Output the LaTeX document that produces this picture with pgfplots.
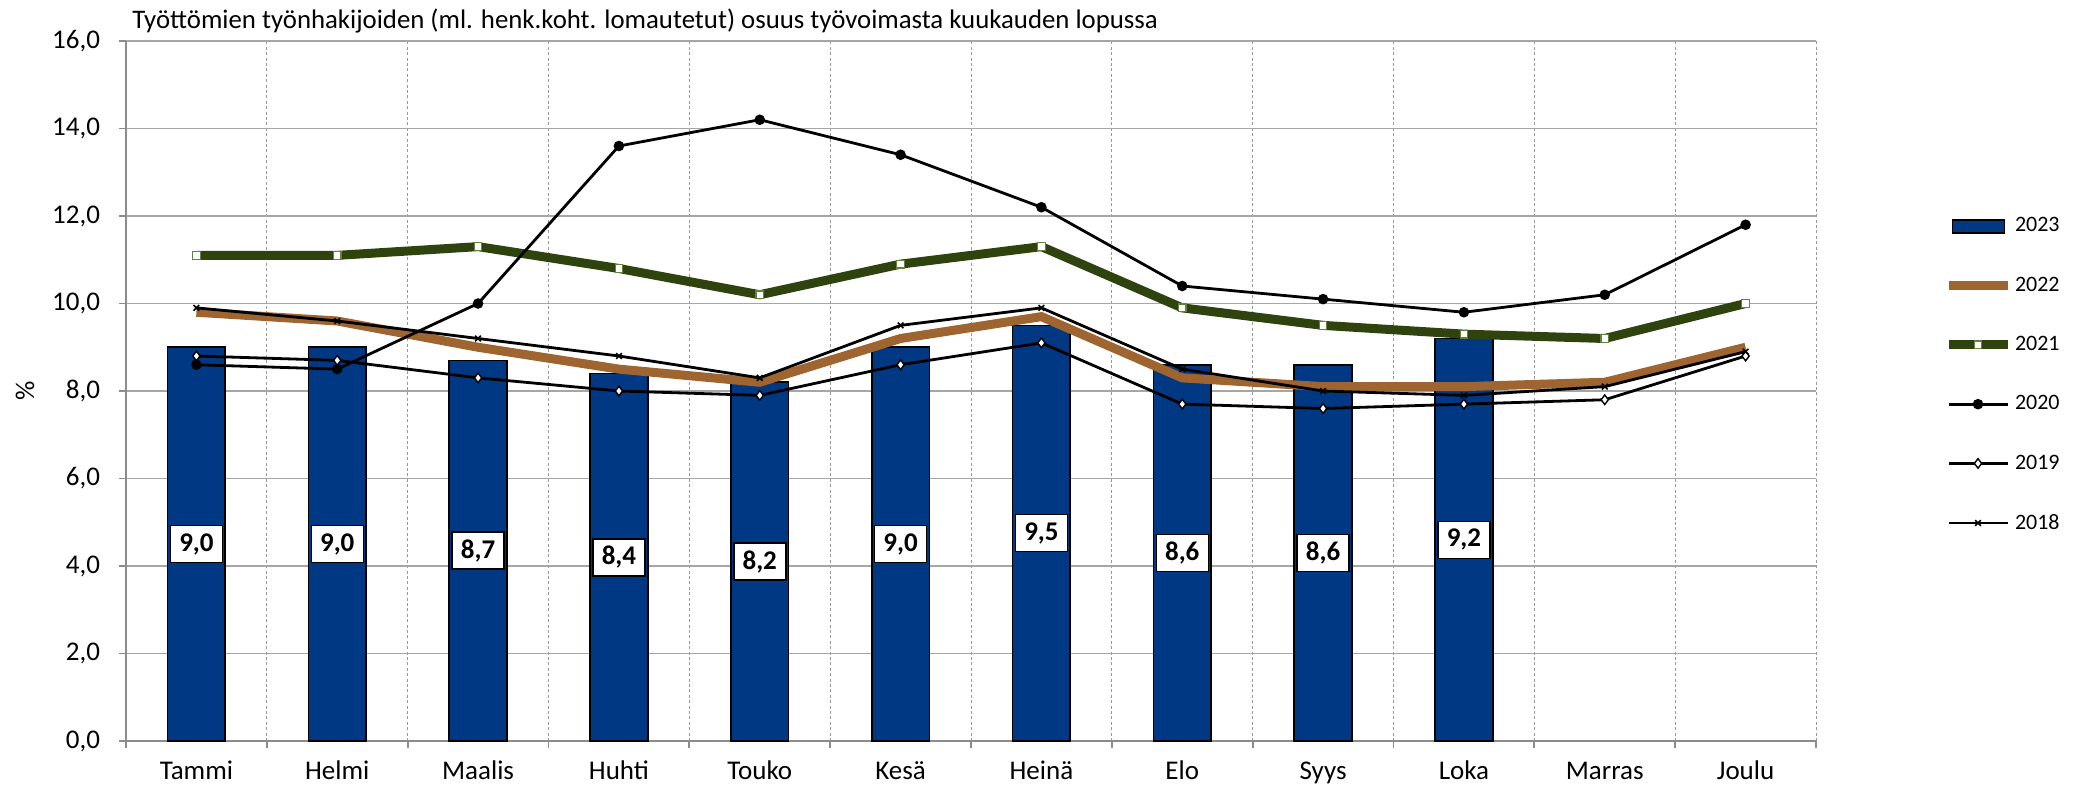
\documentclass[border=0pt]{standalone}
\usepackage{pgfplots}
\pgfplotsset{compat=1.18}
\usepackage{pgfplotstable}
\usepackage{fontspec}
\setmainfont{Carlito}
\definecolor{barblue}{RGB}{0,56,132}
\definecolor{brown22}{RGB}{158,101,48}
\definecolor{green21}{RGB}{47,67,15}
\definecolor{greenedge}{RGB}{100,130,60}

\pgfplotstableread{
x v
0 9.0
1 9.0
2 8.7
3 8.4
4 8.2
5 9.0
6 9.5
7 8.6
8 8.6
9 9.2
}\dataA

\pgfplotstableread{
x y22 y21 y20 y19 y18
0 9.8 11.1 8.6 8.8 9.9
1 9.6 11.1 8.5 8.7 9.6
2 9.0 11.3 10.0 8.3 9.2
3 8.5 10.8 13.6 8.0 8.8
4 8.2 10.2 14.2 7.9 8.3
5 9.2 10.9 13.4 8.6 9.5
6 9.7 11.3 12.2 9.1 9.9
7 8.3 9.9 10.4 7.7 8.5
8 8.1 9.5 10.1 7.6 8.0
9 8.1 9.3 9.8 7.7 7.9
10 8.2 9.2 10.2 7.8 8.1
11 9.0 10.0 11.8 8.8 8.9
}\dataL

\begin{document}
\begin{tikzpicture}
\useasboundingbox (0,0) rectangle (1039pt,394.5pt);
\begin{axis}[
  at={(63pt,24pt)}, anchor=south west,
  scale only axis, width=845pt, height=350pt,
  xmin=-0.5, xmax=11.5, ymin=0, ymax=16,
  axis x line*=bottom, axis y line*=left,
  axis line style={draw=black!45, line width=0.9pt, -},
  xtick={0,...,11},
  xticklabels={Tammi,Helmi,Maalis,Huhti,Touko,Kesä,Heinä,Elo,Syys,Loka,Marras,Joulu},
  minor xtick={-0.5,0.5,...,11.5},
  ytick={0,2,...,16},
  tick align=outside,
  major tick length=3.5pt, minor tick length=3.5pt,
  every major x tick/.append style={draw=none},
  every minor x tick/.append style={draw=black!45, line width=0.9pt},
  every major y tick/.append style={draw=black!45, line width=0.9pt},
  ymajorgrids, xminorgrids,
  major y grid style={draw=black!35, line width=0.9pt},
  minor x grid style={draw=black!40, line width=0.5pt, dash pattern=on 1.5pt off 1.2pt},
  tick label style={font=\fontsize{13.5}{15}\selectfont, text=black},
  yticklabel style={xshift=-6pt, /pgf/number format/.cd, fixed, fixed zerofill, precision=1, use comma, assume math mode=true},
  xticklabel style={anchor=base, yshift=-15.5pt},
  ylabel={\%},
  ylabel style={at={(axis description cs:-0.0598,0.5)}, anchor=center, font=\fontsize{13.5}{15}\selectfont},
  legend style={at={(1.0755,0.523)}, anchor=west, draw=none, fill=none,
    font=\fontsize{11}{13}\selectfont, row sep=21pt, inner sep=0pt,
    nodes={inner sep=0pt}, /tikz/every odd column/.append style={column sep=1.5pt}},
  legend cell align=left,
  legend image code/.code={\draw[mark repeat=2, mark phase=2, #1] plot coordinates {(0pt,0pt) (14.75pt,0pt) (29.5pt,0pt)};},
]
\addplot[ybar, bar width=0.41, fill=barblue, draw=black, line width=0.8pt,
  legend image code/.code={\draw[fill=barblue, draw=black, line width=0.8pt] (2pt,-3.3pt) rectangle (28pt,3.3pt);}]
  table[x=x, y=v] {\dataA};
\addlegendentry{2023}
\addplot[brown22, line width=4.5pt, mark=none] table[x=x, y=y22] {\dataL};
\addlegendentry{2022}
\addplot[green21, line width=4.5pt, mark=square*, mark size=1.9pt,
  mark options={fill=white, draw=greenedge, line width=0.6pt}] table[x=x, y=y21] {\dataL};
\addlegendentry{2021}
\addplot[black, line width=1.4pt, mark=*, mark size=1.9pt, mark options={fill=black}] table[x=x, y=y20] {\dataL};
\addlegendentry{2020}
\addplot[black, line width=1.4pt, mark=diamond*, mark size=2.4pt,
  mark options={fill=white, draw=black, line width=0.7pt}] table[x=x, y=y19] {\dataL};
\addlegendentry{2019}
\addplot[black, line width=1.4pt, mark=x, mark size=2pt, mark options={line width=0.8pt}] table[x=x, y=y18] {\dataL};
\addlegendentry{2018}
\addplot[draw=none, mark=none, forget plot, point meta=explicit,
  nodes near coords={\pgfmathprintnumber[fixed, fixed zerofill, precision=1, use comma, assume math mode=true]{\pgfplotspointmeta}},
  nodes near coords align=center,
  every node near coord/.append style={draw=black, fill=white, text=black, line width=0.75pt,
    minimum width=26pt, minimum height=18.5pt, inner sep=0pt, anchor=center,
    font=\bfseries\fontsize{13.5}{15}\selectfont}]
  table[x=x, y expr=\thisrow{v}/2, meta=v] {\dataA};
\end{axis}
\node[anchor=base west, inner sep=0pt, font=\fontsize{13.4}{16}\selectfont] at (66pt,380pt)
  {Työttömien työnhakijoiden (ml. henk.koht. lomautetut) osuus työvoimasta kuukauden lopussa};
\end{tikzpicture}
\end{document}
